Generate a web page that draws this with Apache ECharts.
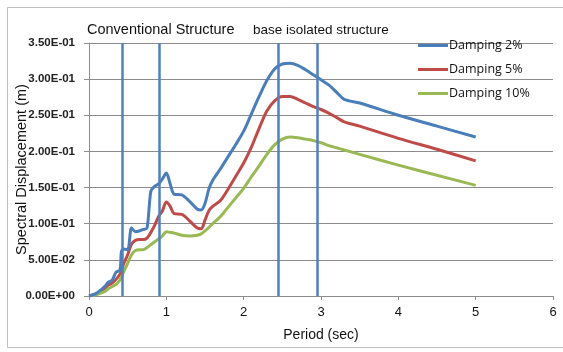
<!DOCTYPE html>
<html><head><meta charset="utf-8">
<script src="https://cdn.jsdelivr.net/npm/echarts@6/dist/echarts.min.js"></script>
<style>html,body{margin:0;padding:0;background:#fff}#c{width:563px;height:352px}</style>
</head><body><div id="c"></div>
<script>
var periods = [0,0.1,0.2,0.25,0.3,0.35,0.4,0.42,0.45,0.5,0.55,0.6,0.65,0.7,0.75,0.8,0.85,0.9,0.95,1.0,1.05,1.1,1.2,1.3,1.4,1.45,1.5,1.55,1.6,1.7,1.8,1.9,2.0,2.1,2.2,2.3,2.4,2.5,2.6,2.7,2.8,2.9,3.0,3.1,3.2,3.3,3.5,4.0,4.5,5.0];
var damping2 = [0,0.004,0.013,0.019,0.022,0.033,0.036,0.062,0.065,0.064,0.094,0.089,0.090,0.092,0.094,0.145,0.152,0.155,0.162,0.170,0.155,0.141,0.140,0.131,0.120,0.119,0.128,0.148,0.160,0.176,0.193,0.210,0.228,0.252,0.276,0.298,0.314,0.321,0.322,0.319,0.313,0.306,0.299,0.292,0.282,0.272,0.267,0.250,0.235,0.220];
var damping5 = [0,0.003,0.010,0.015,0.018,0.023,0.030,0.035,0.045,0.057,0.072,0.077,0.078,0.078,0.080,0.088,0.098,0.110,0.118,0.130,0.124,0.114,0.113,0.104,0.094,0.093,0.105,0.118,0.124,0.132,0.148,0.166,0.184,0.206,0.232,0.256,0.270,0.276,0.276,0.272,0.267,0.262,0.258,0.253,0.247,0.241,0.235,0.218,0.203,0.187];
var damping10 = [0,0.002,0.006,0.010,0.013,0.016,0.022,0.026,0.034,0.045,0.057,0.063,0.064,0.064,0.067,0.071,0.075,0.079,0.083,0.089,0.088,0.087,0.084,0.083,0.084,0.086,0.090,0.095,0.100,0.110,0.123,0.136,0.149,0.165,0.180,0.196,0.209,0.217,0.220,0.219,0.217,0.215,0.212,0.208,0.205,0.202,0.196,0.181,0.167,0.153];
var seriesNames = ['Damping 2%','Damping 5%','Damping 10%'];
var boundaryPeriods = [0.43, 0.91, 2.45, 2.95];
var yTickLabels = ['0.00E+00','5.00E-02','1.00E-01','1.50E-01','2.00E-01','2.50E-01','3.00E-01','3.50E-01'];
var regionLabels = ['Conventional Structure','base isolated structure'];

function pairs(arr){ return periods.map(function(p,i){ return [p, arr[i]]; }); }
var FONT = '"Liberation Sans Narrow","Liberation Sans",Arial,sans-serif';
var colors = ['#4a7ebb','#be4b48','#98b954'];
var chart = echarts.init(document.getElementById('c'));
chart.setOption({
  animation:false,
  color: colors,
  graphic:[{type:'rect',shape:{x:7.5,y:7.5,width:560,height:340},style:{fill:'none',stroke:'#bfbfbf',lineWidth:1},silent:true}],
  title:[
    {text:regionLabels[0],left:87,top:22,padding:0,textStyle:{fontFamily:FONT,fontSize:14.5,fontWeight:'normal',color:'#111'}},
    {text:regionLabels[1],left:253,top:23,padding:0,textStyle:{fontFamily:FONT,fontSize:13.5,fontWeight:'normal',color:'#111'}}
  ],
  legend:{orient:'vertical',left:418,top:39,padding:0,itemWidth:30,itemHeight:3,itemGap:11,icon:'rect',
    textStyle:{fontFamily:'"Open Sans","Liberation Sans",sans-serif',fontSize:12.5,color:'#111',padding:[0,0,0,-4]},
    data:seriesNames},
  grid:{left:89,right:10,top:43,bottom:56,outerBoundsMode:'none',containLabel:false},
  xAxis:{type:'value',min:0,max:6,interval:1,
    name:'Period (sec)',nameLocation:'middle',nameGap:32,
    nameTextStyle:{fontFamily:FONT,fontSize:14,color:'#111'},
    axisLine:{lineStyle:{color:'#8c8c8c'}},axisTick:{show:true,length:4,lineStyle:{color:'#8c8c8c'}},
    axisLabel:{fontFamily:FONT,fontSize:13,color:'#111',margin:10},
    splitLine:{show:false}},
  yAxis:{type:'value',min:0,max:0.35,interval:0.05,
    name:'Spectral Displacement (m)',nameLocation:'middle',nameGap:60,nameRotate:90,nameMoveOverlap:false,
    nameTextStyle:{fontFamily:FONT,fontSize:14.5,color:'#111'},
    axisLine:{show:true,lineStyle:{color:'#8c8c8c'}},axisTick:{show:true,length:5,lineStyle:{color:'#8c8c8c'}},
    axisLabel:{fontFamily:FONT,fontSize:11.5,fontWeight:'bold',color:'#222',margin:14,
      formatter:function(v){ return yTickLabels[Math.round(v/0.05)]; }},
    splitLine:{lineStyle:{color:'#8c8c8c',width:1}}},
  series:[
    {name:seriesNames[0],type:'line',data:pairs(damping2),smooth:0.3,symbol:'none',lineStyle:{width:3},z:3,
     markLine:{silent:true,symbol:'none',label:{show:false},lineStyle:{color:'#4f81bd',width:2.5,type:'solid'},
       data:boundaryPeriods.map(function(p){return {xAxis:p};})}},
    {name:seriesNames[1],type:'line',data:pairs(damping5),smooth:0.3,symbol:'none',lineStyle:{width:3},z:2},
    {name:seriesNames[2],type:'line',data:pairs(damping10),smooth:0.3,symbol:'none',lineStyle:{width:3},z:2}
  ]
});
</script></body></html>
